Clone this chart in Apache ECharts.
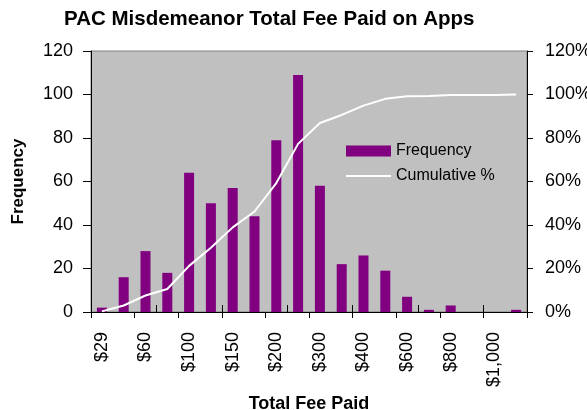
<!DOCTYPE html>
<html>
<head>
<meta charset="utf-8">
<script src="https://cdn.jsdelivr.net/npm/echarts@6/dist/echarts.min.js"></script>
<style>
html, body { margin: 0; padding: 0; background: #fff; }
#chart { width: 587px; height: 410px; }
</style>
</head>
<body>
<div id="chart"></div>
<script>
let categories = ['$29', '$40', '$60', '$75', '$100', '$125', '$150', '$175', '$200', '$250',
    '$300', '$350', '$400', '$500', '$600', '$700', '$800', '$900', '$1,000', 'More']
let frequency = [2, 16, 28, 18, 64, 50, 57, 44, 79, 109, 58, 22, 26, 19, 7, 1, 3, 0, 0, 1]
let cumulative = [0.3, 3.0, 7.6, 10.6, 21.2, 29.5, 38.9, 46.2, 59.3, 77.3,
    86.9, 90.6, 94.9, 98.0, 99.2, 99.3, 99.8, 99.8, 99.8, 100]
let leftTicks = [0, 20, 40, 60, 80, 100, 120]

let fontFamily = 'Liberation Sans, Arial, sans-serif'

let option = {
    animation: false,
    title: {
        text: 'PAC Misdemeanor Total Fee Paid on Apps',
        left: 64,
        top: 9,
        padding: 0,
        textStyle: { fontFamily: fontFamily, fontSize: 20.5, fontWeight: 'bold', color: '#000' }
    },
    legend: {
        orient: 'vertical',
        left: 346,
        top: 143,
        padding: 0,
        itemWidth: 45,
        itemHeight: 11,
        itemGap: 9,
        textStyle: { fontFamily: fontFamily, fontSize: 16, color: '#000' },
        data: [
            { name: 'Frequency', icon: 'rect' },
            { name: 'Cumulative %', icon: 'path://M0,0 H45 V2 H0 Z' }
        ]
    },
    grid: {
        left: 91,
        right: 60,
        top: 51,
        bottom: 98,
        containLabel: false,
        outerBoundsMode: 'none',
        show: true,
        backgroundColor: '#c0c0c0',
        borderColor: '#808080',
        borderWidth: 1
    },
    xAxis: [{
        type: 'category',
        data: categories,
        name: 'Total Fee Paid',
        nameLocation: 'middle',
        nameGap: 73,
        nameTextStyle: { fontFamily: fontFamily, fontSize: 18, fontWeight: 'bold', color: '#000' },
        axisLine: { lineStyle: { color: '#000', width: 1 } },
        axisTick: { show: true, length: 6, lineStyle: { color: '#000' } },
        axisLabel: {
            interval: 1,
            rotate: 90,
            margin: 20,
            fontFamily: fontFamily,
            fontSize: 18,
            color: '#000'
        },
        splitLine: { show: false }
    }, {
        type: 'category',
        data: categories,
        position: 'bottom',
        axisLine: { show: false },
        axisTick: { show: true, inside: true, length: 7, lineStyle: { color: '#000' } },
        axisLabel: { show: false },
        splitLine: { show: false }
    }],
    yAxis: [{
        type: 'value',
        min: 0,
        max: leftTicks[leftTicks.length - 1],
        interval: 20,
        name: 'Frequency',
        nameLocation: 'middle',
        nameGap: 64,
        nameTextStyle: { fontFamily: fontFamily, fontSize: 17, fontWeight: 'bold', color: '#000' },
        axisLine: { show: true, lineStyle: { color: '#000' } },
        axisTick: { show: true, length: 8, lineStyle: { color: '#000' } },
        axisLabel: { margin: 18, fontFamily: fontFamily, fontSize: 18, color: '#000' },
        splitLine: { show: false }
    }, {
        type: 'value',
        min: 0,
        max: 120,
        interval: 20,
        position: 'right',
        axisLine: { show: true, lineStyle: { color: '#000' } },
        axisTick: { show: true, length: 6, lineStyle: { color: '#000' } },
        axisLabel: { formatter: '{value}%', margin: 18, fontFamily: fontFamily, fontSize: 18, color: '#000' },
        splitLine: { show: false }
    }],
    series: [{
        name: 'Frequency',
        type: 'bar',
        barWidth: 10,
        data: frequency,
        itemStyle: { color: '#800080' }
    }, {
        name: 'Cumulative %',
        type: 'line',
        yAxisIndex: 1,
        data: cumulative,
        symbol: 'none',
        lineStyle: { color: '#ffffff', width: 2 },
        itemStyle: { color: '#ffffff' }
    }]
}

var myChart = echarts.init(document.getElementById('chart'))
myChart.setOption(option)
window.addEventListener('resize', function() {
    myChart.resize()
})
</script>
</body>
</html>
